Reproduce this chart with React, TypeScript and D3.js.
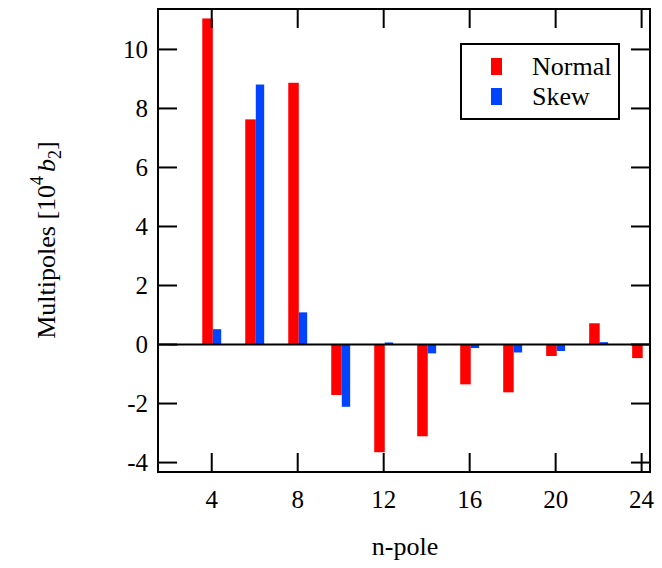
import * as d3 from 'd3';
import React from 'react';

const nPole = [2, 4, 6, 8, 10, 12, 14, 16, 18, 20, 22, 24];
const normalValues = [0, 11.05, 7.63, 8.87, -1.71, -3.65, -3.11, -1.35, -1.62, -0.39, 0.72, -0.46];
const skewValues = [-0.03, 0.52, 8.81, 1.09, -2.11, 0.07, -0.3, -0.12, -0.27, -0.22, 0.08, 0];
const xTicks = [4, 8, 12, 16, 20, 24];
const yTicks = [-4, -2, 0, 2, 4, 6, 8, 10];
const seriesNames = ['Normal', 'Skew'];

const RED = '#ff0000';
const BLUE = '#0044ff';
const FONT = 'Liberation Serif';

const left = 158, right = 650, top = 9, bottom = 472;
const tickLen = 19;

const x = d3.scaleLinear().domain([1.5, 24.39]).range([left, right]);
const y = d3.scaleLinear().domain([-4.32, 11.37]).range([bottom, top]);

// red sits just left of the tick, blue just right of it
const series = [
    { values: normalValues, color: RED, x0: -0.44, x1: 0.05 },
    { values: skewValues, color: BLUE, x0: 0.05, x1: 0.44 }
];

const App = () => {
    return (
        <svg width={662} height={568}
            style={{ position: 'absolute', left: 0, top: 0, background: '#fff', fontFamily: FONT }}>
            {series.map((s, si) => (
                <g key={si}>
                    {nPole.map((n, i) => (
                        <rect key={n}
                            x={x(n + s.x0)}
                            width={x(n + s.x1) - x(n + s.x0)}
                            y={y(Math.max(0, s.values[i]))}
                            height={Math.abs(y(s.values[i]) - y(0))}
                            fill={s.color} />
                    ))}
                </g>
            ))}

            <line x1={left} x2={right} y1={y(0)} y2={y(0)} stroke="#000" strokeWidth={2} />

            <g stroke="#000" strokeWidth={2}>
                {xTicks.map(t => (
                    <g key={t}>
                        <line x1={x(t)} x2={x(t)} y1={bottom} y2={bottom - tickLen} />
                        <line x1={x(t)} x2={x(t)} y1={top} y2={top + tickLen} />
                    </g>
                ))}
                {yTicks.map(t => (
                    <g key={t}>
                        <line x1={left} x2={left + tickLen} y1={y(t)} y2={y(t)} />
                        <line x1={right} x2={right - tickLen} y1={y(t)} y2={y(t)} />
                    </g>
                ))}
            </g>

            <rect x={left} y={top} width={right - left} height={bottom - top}
                fill="none" stroke="#000" strokeWidth={2} />

            {xTicks.map(t => (
                <text key={t} x={x(t)} y={508} textAnchor="middle" style={{ fontSize: '25px' }}>{t}</text>
            ))}
            {yTicks.map(t => (
                <text key={t} x={148} y={y(t)} dy="0.34em" textAnchor="end" style={{ fontSize: '25px' }}>{t}</text>
            ))}

            <text x={405} y={555} textAnchor="middle" style={{ fontSize: '26px' }}>n-pole</text>

            <text transform="translate(55, 240) rotate(-90)" textAnchor="middle" style={{ fontSize: '26px' }}>
                <tspan>Multipoles [10</tspan>
                <tspan dy={-12} style={{ fontSize: '18px' }}>4</tspan>
                <tspan dy={12} dx={4} style={{ fontStyle: 'italic' }}>b</tspan>
                <tspan dy={6} style={{ fontSize: '18px' }}>2</tspan>
                <tspan dy={-6}>]</tspan>
            </text>

            <g>
                <rect x={461} y={44} width={158} height={75} fill="#fff" stroke="#000" strokeWidth={2} />
                {seriesNames.map((name, i) => (
                    <g key={name}>
                        <rect x={491} y={58 + i * 30} width={11} height={17} fill={series[i].color} />
                        <text x={532} y={75 + i * 30} style={{ fontSize: '26px' }}>{name}</text>
                    </g>
                ))}
            </g>
        </svg>
    );
};

export default App;
